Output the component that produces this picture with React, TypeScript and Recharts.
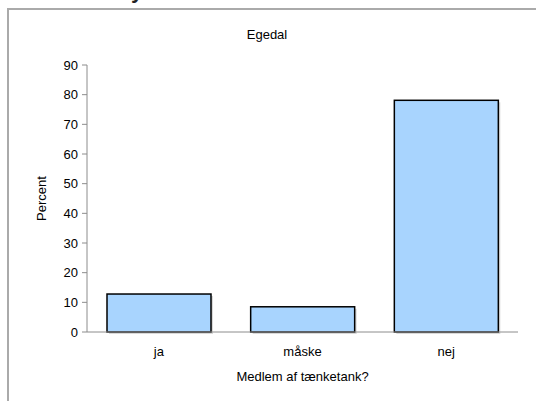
import { BarChart, Bar, XAxis, YAxis, Label } from "recharts";

const categories = ["ja", "måske", "nej"];
const percentValues = [12.8, 8.5, 78.1];
const yTicks = [0, 10, 20, 30, 40, 50, 60, 70, 80, 90];

const data = categories.map((name, i) => ({ name, value: percentValues[i] }));

const FONT = "'Liberation Sans', Arial, sans-serif";

// bar with a soft drop shadow like the original spreadsheet export
const ShadowBar = (props: any) => {
  const { x, y, width, height } = props;
  if (!height) return null;
  return (
    <g>
      <rect x={x + 2} y={y + 2} width={width} height={height} fill="#000" opacity={0.15} />
      <rect x={x} y={y} width={width} height={height} fill="#a8d4fe" stroke="#000" strokeWidth={1.5} />
    </g>
  );
};

export default function App() {
  return (
    <div style={{ position: "absolute", left: 0, top: 0, width: 536, height: 401, overflow: "hidden", background: "#fff", fontFamily: FONT }}>
      {/* cut-off heading above the chart frame */}
      <div style={{ position: "absolute", left: 131, top: -22, fontSize: 22, fontWeight: "bold", color: "#222", lineHeight: "26px" }}>
        y
      </div>
      {/* chart frame, only top and left edges are in view */}
      <div style={{ position: "absolute", left: 7, top: 8, width: 529, height: 393, borderTop: "2px solid #aaa", borderLeft: "2px solid #aaa", boxSizing: "border-box" }} />
      <div style={{ position: "absolute", left: 0, width: 534, top: 27, textAlign: "center", fontSize: 13, color: "#000" }}>
        Egedal
      </div>
      <div style={{ position: "absolute", left: 0, top: 0 }}>
        <BarChart width={536} height={401} data={data} margin={{ top: 65, right: 18, bottom: 0, left: 0 }}>
          <XAxis
            dataKey="name"
            height={69}
            tickLine={false}
            tickSize={0}
            tickMargin={15}
            axisLine={{ stroke: "#8c8c8c" }}
            tick={{ fill: "#000", fontSize: 13, fontFamily: FONT }}
          >
            <Label value="Medlem af tænketank?" position="insideBottom" offset={20} fill="#000" fontSize={13} fontFamily={FONT} />
          </XAxis>
          <YAxis
            width={87}
            domain={[0, 90]}
            ticks={yTicks}
            interval={0}
            tickSize={5}
            tickMargin={4}
            axisLine={{ stroke: "#8c8c8c" }}
            tickLine={{ stroke: "#8c8c8c" }}
            tick={{ fill: "#000", fontSize: 13, fontFamily: FONT }}
          >
            <Label value="Percent" angle={-90} position="center" dx={-2} fill="#000" fontSize={13} fontFamily={FONT} />
          </YAxis>
          <Bar dataKey="value" barSize={104} shape={ShadowBar} isAnimationActive={false} />
        </BarChart>
      </div>
    </div>
  );
}
